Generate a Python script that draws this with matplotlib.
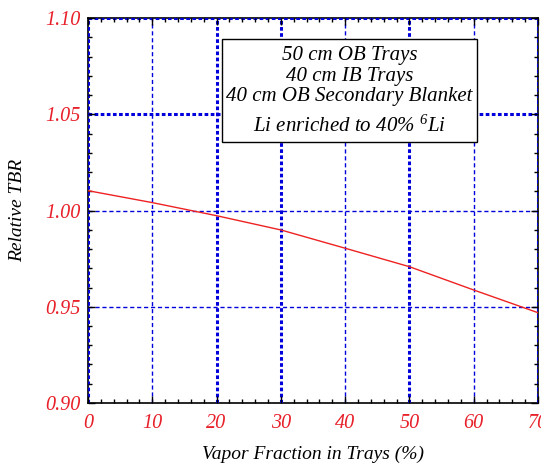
import matplotlib
matplotlib.use("Agg")
import matplotlib.pyplot as plt
from matplotlib.patches import Rectangle
from matplotlib.ticker import MultipleLocator

plt.rcParams['font.family'] = ['Liberation Serif', 'DejaVu Serif']
plt.rcParams['mathtext.fontset'] = 'custom'
plt.rcParams['mathtext.rm'] = 'Liberation Serif:italic'
plt.rcParams['mathtext.it'] = 'Liberation Serif:italic'

vapor = [0, 10, 20, 30, 40, 50, 60, 70]
tbr = [1.0103, 1.0041, 0.9973, 0.9899, 0.9804, 0.9708, 0.9587, 0.9469]

x_ticks = [0, 10, 20, 30, 40, 50, 60, 70]
y_ticks = [0.90, 0.95, 1.00, 1.05, 1.10]
x_thick = [0, 20, 30, 50, 70]
x_thin = [10, 40, 60]
y_thick = [1.05, 1.10]
y_thin = [0.95, 1.00]

box_lines = ["50 cm OB Trays", "40 cm IB Trays", "40 cm OB Secondary Blanket"]
box_last = "Li enriched to 40% $^{6}$Li"

fig = plt.figure(figsize=(5.41, 4.68), dpi=100)
ax = fig.add_axes([0.1627, 0.1389, 0.8318, 0.8226])
ax.set_xlim(0, 70)
ax.set_ylim(0.90, 1.10)

for xv in x_thick:
    ax.axvline(xv, color='#0000dd', lw=2.2, ls=(0, (1.2, 0.8)), zorder=1)
for xv in x_thin:
    ax.axvline(xv, color='#0000dd', lw=1.0, ls=(0, (3, 2)), zorder=1)
for yv in y_thick:
    ax.axhline(yv, color='#0000dd', lw=2.2, ls=(0, (1.2, 0.8)), zorder=1)
for yv in y_thin:
    ax.axhline(yv, color='#0000dd', lw=1.0, ls=(0, (3, 2)), zorder=1)

ax.plot(vapor, tbr, color='#ee2222', lw=1.0, zorder=3)

ax.set_xticks(x_ticks)
ax.set_yticks(y_ticks)
ax.set_xticklabels([str(v) for v in x_ticks])
ax.set_yticklabels(["%.2f" % v for v in y_ticks])
ax.xaxis.set_minor_locator(MultipleLocator(2))
ax.yaxis.set_minor_locator(MultipleLocator(0.01))
ax.tick_params(which='both', direction='in', top=True, right=True,
               colors='black', labelcolor='#e8202a', labelsize=14.5)
ax.tick_params(which='major', length=5, width=1)
ax.tick_params(which='minor', length=3, width=1)
ax.tick_params(axis='x', pad=8)
ax.tick_params(axis='y', pad=5)
for lab in ax.get_xticklabels() + ax.get_yticklabels():
    lab.set_fontstyle('italic')
for s in ax.spines.values():
    s.set_linewidth(1.2)
    s.set_zorder(0)

ax.set_xlabel("Vapor Fraction in Trays (%)", fontsize=14, style='italic', labelpad=9)
ax.set_ylabel("Relative TBR", fontsize=14, style='italic', labelpad=14)

rect = Rectangle((20.8, 1.0356), 39.7, 0.0535, facecolor='white',
                 edgecolor='black', lw=1.0, zorder=4)
ax.add_patch(rect)
cx = 40.65
ys = [1.0806, 1.0697, 1.0592]
for t, yv in zip(box_lines, ys):
    ax.text(cx, yv, t, ha='center', va='center', fontsize=15, style='italic', zorder=5)
ax.text(cx, 1.0437, box_last, ha='center', va='center', fontsize=15, style='italic', zorder=5)

fig.savefig("out.png", dpi=100)
